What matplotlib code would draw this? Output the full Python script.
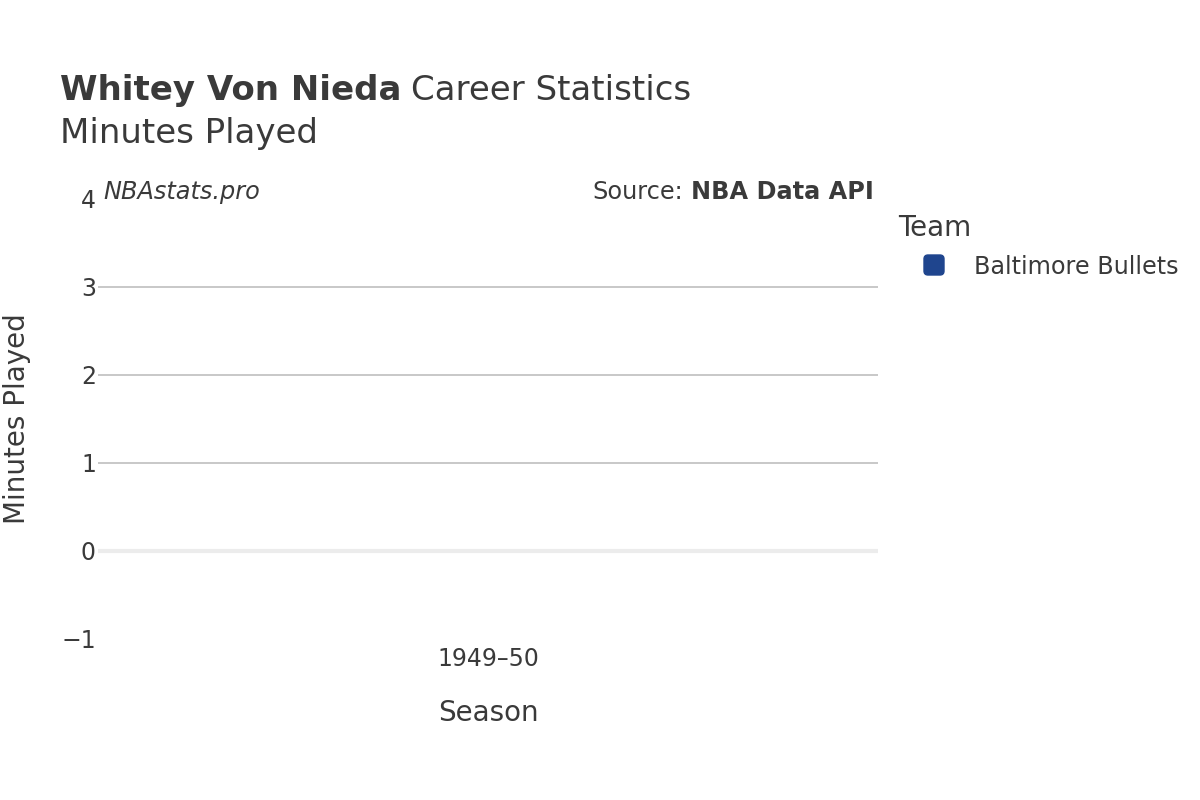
import matplotlib
matplotlib.use("Agg")
import matplotlib.pyplot as plt
from matplotlib.patches import FancyBboxPatch
from matplotlib.transforms import IdentityTransform

# Data
seasons = ["1949–50"]
teams = ["Baltimore Bullets"]
minutes = [0]
team_colors = ["#1f458e"]

TXT = "#3a3a3a"
plt.rcParams['font.family'] = ['DejaVu Sans']

W, H = 1200, 800
fig = plt.figure(figsize=(12, 8), dpi=100)
ax = fig.add_axes([98/W, 1 - 639/H, 780/W, 440/H])

ax.bar(range(len(seasons)), minutes, color=team_colors[0], width=0.8)
ax.set_xlim(-0.5, len(seasons) - 0.5)
ax.set_ylim(-1, 4)
ax.set_yticks([-1, 0, 1, 2, 3, 4])
ax.set_yticklabels(["−1", "0", "1", "2", "3", "4"])
ax.set_xticks(range(len(seasons)))
ax.set_xticklabels(seasons)

for y in [1, 2, 3]:
    ax.axhline(y, color="#c4c4c4", lw=1.3, zorder=0)
ax.axhline(0, color="#ececec", lw=3, zorder=0)

for s in ax.spines.values():
    s.set_visible(False)
ax.tick_params(axis='both', length=0, labelsize=17, colors=TXT)
ax.tick_params(axis='y', pad=1.5)
ax.tick_params(axis='x', pad=6)

ax.set_xlabel("Season", fontsize=20, color=TXT, labelpad=20)
fig.text(17/W, 1 - 419/H, "Minutes Played", fontsize=20, color=TXT,
         rotation=90, ha='center', va='center')

t1 = fig.text(60/W, 1 - 100/H, "Whitey Von Nieda", fontsize=24.5, color=TXT, fontweight='bold')
fig.canvas.draw()
bb = t1.get_window_extent()
fig.text(bb.x1/W + 10/W, 1 - 100/H, "Career Statistics", fontsize=24.5, color=TXT)
fig.text(60/W, 1 - 143/H, "Minutes Played", fontsize=24.5, color=TXT)

fig.text(103/W, 1 - 199/H, "NBAstats.pro", fontsize=17.3, color=TXT, style='italic')
s2 = fig.text(874/W, 1 - 199/H, "NBA Data API", fontsize=17.3, color=TXT, fontweight='bold', ha='right')
fig.canvas.draw()
bb2 = s2.get_window_extent()
fig.text(bb2.x0/W - 8/W, 1 - 199/H, "Source:", fontsize=17.3, color=TXT, ha='right')

# Legend
fig.text(898/W, 1 - 236/H, "Team", fontsize=20, color=TXT)
for i, (team, c) in enumerate(zip(teams, team_colors)):
    yc = 265 + i * 38
    p = FancyBboxPatch((924, H - yc - 10), 20, 20,
                       boxstyle="round,pad=0,rounding_size=4",
                       facecolor=c, edgecolor=c, transform=IdentityTransform())
    fig.patches.append(p)
    fig.text(974/W, 1 - (yc + 2)/H, team, fontsize=17.2, color=TXT, va='center')

fig.savefig("out.png", dpi=100, facecolor="white")
